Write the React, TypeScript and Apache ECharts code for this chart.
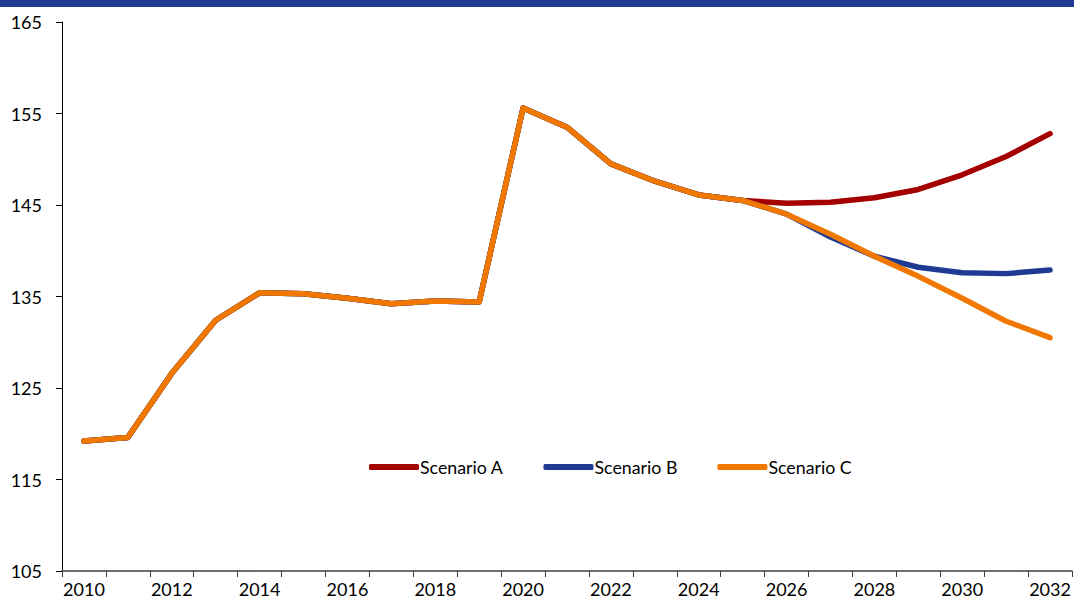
import React, { useEffect, useRef } from "react";
import * as echarts from "echarts";

const years = ["2010","2011","2012","2013","2014","2015","2016","2017","2018","2019","2020","2021","2022","2023","2024","2025","2026","2027","2028","2029","2030","2031","2032"];
const scenarioA = [119.2,119.6,126.6,132.4,135.4,135.3,134.8,134.2,134.5,134.4,155.6,153.5,149.5,147.6,146.1,145.5,145.2,145.3,145.8,146.7,148.3,150.3,152.8];
const scenarioB = [119.2,119.6,126.6,132.4,135.4,135.3,134.8,134.2,134.5,134.4,155.6,153.5,149.5,147.6,146.1,145.5,144.0,141.5,139.4,138.2,137.6,137.5,137.9];
const scenarioC = [119.2,119.6,126.6,132.4,135.4,135.3,134.8,134.2,134.5,134.4,155.6,153.5,149.5,147.6,146.1,145.5,144.0,141.8,139.4,137.2,134.8,132.3,130.5];
const seriesNames = ["Scenario A", "Scenario B", "Scenario C"];
const colors = ["#A50000", "#1F3A93", "#F07800"];

export default function App() {
  const ref = useRef<HTMLDivElement>(null);
  useEffect(() => {
    document.body.style.margin = "0";
    const chart = echarts.init(ref.current!, null, { renderer: "svg" });
    const font = "Lato, 'Noto Sans', sans-serif";
    const data = [scenarioA, scenarioB, scenarioC];
    chart.setOption({
      animation: false,
      backgroundColor: "#ffffff",
      graphic: [
        { type: "rect", left: 0, top: 0, shape: { width: 1074, height: 7 }, style: { fill: "#1F3A93" } },
      ],
      grid: { left: 62, right: 2, top: 22, bottom: 35, containLabel: false },
      legend: {
        left: 364,
        top: 453,
        itemWidth: 50,
        itemHeight: 6,
        itemGap: 40,
        icon: "roundRect",
        textStyle: { fontFamily: font, fontSize: 17.8, color: "#000", padding: [0, 0, 0, -4] },
        data: seriesNames,
      },
      xAxis: {
        type: "category",
        data: years,
        boundaryGap: true,
        axisLine: { lineStyle: { color: "#404040", width: 1.5 } },
        axisTick: { show: true, interval: 0, length: 6, lineStyle: { color: "#404040" } },
        axisLabel: { interval: 1, fontFamily: font, fontSize: 18, color: "#000", margin: 9 },
        splitLine: { show: false },
      },
      yAxis: {
        type: "value",
        min: 105,
        max: 165,
        interval: 10,
        axisLine: { show: true, lineStyle: { color: "#000", width: 1 } },
        axisTick: { show: true, length: 6, lineStyle: { color: "#000" } },
        axisLabel: { fontFamily: font, fontSize: 18, color: "#000", margin: 20 },
        splitLine: { show: false },
      },
      series: seriesNames.map((n, i) => ({
        name: n,
        type: "line",
        data: data[i],
        symbol: "none",
        z: 2 + i,
        color: colors[i],
        lineStyle: { width: 5.5, color: colors[i], cap: "round", join: "round" },
      })),
    });
    return () => chart.dispose();
  }, []);
  return <div ref={ref} style={{ position: "absolute", left: 0, top: 0, width: 1074, height: 606 }} />;
}
